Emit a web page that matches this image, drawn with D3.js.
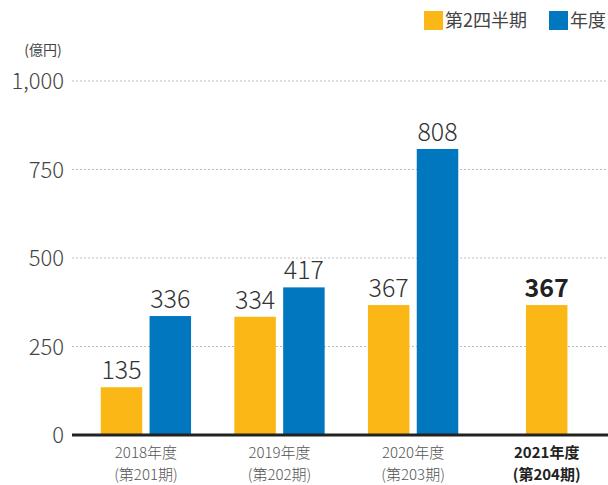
<!DOCTYPE html>
<html>
<head>
<meta charset="utf-8">
<script src="https://cdn.jsdelivr.net/npm/d3@7"></script>
<style>
  body { margin: 0; background: #fff; }
  svg { font-family: "Noto Sans CJK JP", "Noto Sans", sans-serif; }
</style>
</head>
<body>
<svg id="chart" width="608" height="485"></svg>
<script>
// data
const years = ["2018年度", "2019年度", "2020年度", "2021年度"]
const periods = ["(第201期)", "(第202期)", "(第203期)", "(第204期)"]
const q2Values = [135, 334, 367, 367]
const fyValues = [336, 417, 808, null]
const yTicks = [0, 250, 500, 750, 1000]
const seriesNames = ["第2四半期", "年度"]
const colors = {q2: "#FBB716", fy: "#0077BF"}

const svg = d3.select('#chart')

const y = d3.scaleLinear().domain([0, 1000]).range([435, 81])

const x0 = d3.scaleBand()
  .domain(years)
  .range([79.1, 613.5])
  .paddingInner(0.324)
  .paddingOuter(0.162)

const x1 = d3.scaleBand()
  .domain(["q2", "fy"])
  .range([0, x0.bandwidth()])
  .paddingInner(0.15)

// gridlines
svg.append('g')
  .selectAll('line')
  .data(yTicks.filter(d => d > 0))
  .join('line')
    .attr('x1', 72).attr('x2', 608)
    .attr('y1', d => y(d)).attr('y2', d => y(d))
    .attr('stroke', '#bdbdbd')
    .attr('stroke-width', 1)
    .attr('stroke-dasharray', '2,2')

// y axis labels
svg.append('g')
  .selectAll('text')
  .data(yTicks)
  .join('text')
    .attr('x', 64)
    .attr('y', d => y(d) + 8)
    .attr('text-anchor', 'end')
    .attr('font-size', 22)
    .attr('font-weight', 300)
    .attr('fill', '#444')
    .text(d => d3.format(',')(d))

svg.append('text')
  .attr('x', 43).attr('y', 55)
  .attr('text-anchor', 'middle')
  .attr('font-size', 14)
  .attr('fill', '#444')
  .text('(億円)')

// bars
const rows = years.map((yr, i) => ({year: yr, i, q2: q2Values[i], fy: fyValues[i]}))
const bars = []
rows.forEach(r => {
  const single = r.fy == null
  ;["q2", "fy"].forEach(k => {
    if (r[k] == null) return
    const bx = single
      ? x0(r.year) + x0.bandwidth() / 2 - x1.bandwidth() / 2
      : x0(r.year) + x1(k)
    bars.push({key: k, value: r[k], x: bx, bold: single})
  })
})

svg.append('g')
  .selectAll('rect')
  .data(bars)
  .join('rect')
    .attr('x', d => d.x)
    .attr('y', d => y(d.value))
    .attr('width', x1.bandwidth())
    .attr('height', d => y(0) - y(d.value))
    .attr('fill', d => colors[d.key])

svg.append('g')
  .selectAll('text')
  .data(bars)
  .join('text')
    .attr('x', d => d.x + x1.bandwidth() / 2)
    .attr('y', d => y(d.value) - 8)
    .attr('text-anchor', 'middle')
    .attr('font-size', 25)
    .attr('font-weight', d => d.bold ? 'bold' : 300)
    .attr('fill', d => d.bold ? '#222' : '#333')
    .text(d => d.value)

// baseline
svg.append('line')
  .attr('x1', 72).attr('x2', 608)
  .attr('y1', y(0)).attr('y2', y(0))
  .attr('stroke', '#222')
  .attr('stroke-width', 3)

// x labels, two lines each
const xLabels = svg.append('g')
  .selectAll('g')
  .data(rows)
  .join('g')
    .attr('text-anchor', 'middle')
    .attr('font-size', 15)
    .attr('font-weight', d => d.fy == null ? 'bold' : 300)
    .attr('fill', d => d.fy == null ? '#222' : '#555')
xLabels.append('text')
  .attr('x', d => x0(d.year) + x0.bandwidth() / 2)
  .attr('y', 458)
  .text(d => d.year)
xLabels.append('text')
  .attr('x', d => x0(d.year) + x0.bandwidth() / 2)
  .attr('y', 480)
  .text(d => periods[d.i])

// legend
const legend = svg.append('g')
const legendX = [424, 549]
seriesNames.forEach((name, i) => {
  legend.append('rect')
    .attr('x', legendX[i]).attr('y', 11)
    .attr('width', 19).attr('height', 19)
    .attr('fill', i === 0 ? colors.q2 : colors.fy)
  legend.append('text')
    .attr('x', legendX[i] + 21).attr('y', 27)
    .attr('font-size', 18)
    .attr('fill', '#444')
    .text(name)
})
</script>
</body>
</html>
